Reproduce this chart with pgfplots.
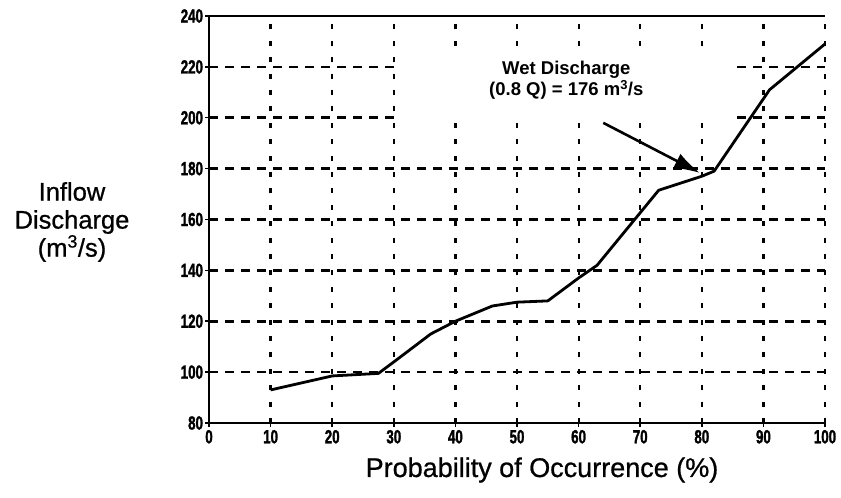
\documentclass[border=0pt]{standalone}
\usepackage{fontspec}
\setmainfont{Liberation Sans}
\newfontfamily\tickfont{Liberation Sans}[FakeStretch=0.7,FakeBold=1.5]
\newfontfamily\labelfont{Liberation Sans}[FakeBold=0.8]
\usepackage{pgfplots}
\pgfplotsset{compat=1.18}
\usetikzlibrary{arrows.meta}

\begin{document}
\begin{tikzpicture}
\begin{axis}[
  name=ax,
  scale only axis,
  width=616pt, height=407pt,
  xmin=0, xmax=100, ymin=80, ymax=240,
  xtick distance=10, ytick distance=20,
  xtick pos=bottom, ytick pos=left,
  grid=major,
  x grid style={line width=2.2pt, dash pattern=on 5pt off 11.4pt, black},
  y grid style={line width=2.6pt, dash pattern=on 9pt off 7pt, black},
  axis line style={draw=none},
  tick align=center,
  major tick length=7pt,
  tick style={line width=1.5pt, black},
  tick label style={font=\tickfont\bfseries\fontsize{19}{19}\selectfont},
  yticklabel style={xshift=1pt},
  /pgf/number format/assume math mode=true,
  clip=false,
]
  % white panel behind the annotation hides the grid there
  \fill[white] (axis cs:30.4,198) rectangle (axis cs:85.5,227.8);

  \addplot[black, line width=2.8pt, line join=round, mark=none] coordinates {
    (10, 93)
    (20, 98.5)
    (27.5, 99.5)
    (30, 104)
    (36, 115)
    (40, 120)
    (46, 126)
    (50, 127.5)
    (55, 128)
    (60, 137)
    (63, 142)
    (73, 171.5)
    (80, 177)
    (82, 179)
    (91, 211)
    (100, 229)
  };

  \draw[line width=2.6pt] (rel axis cs:0,1) -- (rel axis cs:0,0) -- (rel axis cs:1,0);
  \draw[line width=2.8pt] (rel axis cs:0,1) -- (rel axis cs:1,1);

  \draw[line width=2.6pt, -{Latex[length=26pt,width=16pt]}]
    (axis cs:64,198) -- (axis cs:79.7,178.3);
  \node[align=center, font=\bfseries\fontsize{18.5}{21}\selectfont]
    at (axis cs:58,214.6) {Wet Discharge\\(0.8 Q) = 176 m\textsuperscript{3}/s};
\end{axis}
\node[anchor=base, font=\labelfont\fontsize{27}{27}\selectfont]
  at ([shift={(333pt,-54pt)}]ax.south west) {Probability of Occurrence (\%)};
\node[align=center, font=\labelfont\fontsize{25.5}{28}\selectfont]
  at ([shift={(-137pt,201pt)}]ax.south west) {Inflow\\Discharge\\(m\textsuperscript{3}/s)};
\pgfresetboundingbox
\path ([shift={(-209pt,-75pt)}]ax.south west) rectangle ([shift={(16pt,16pt)}]ax.north east);
\end{tikzpicture}
\end{document}
